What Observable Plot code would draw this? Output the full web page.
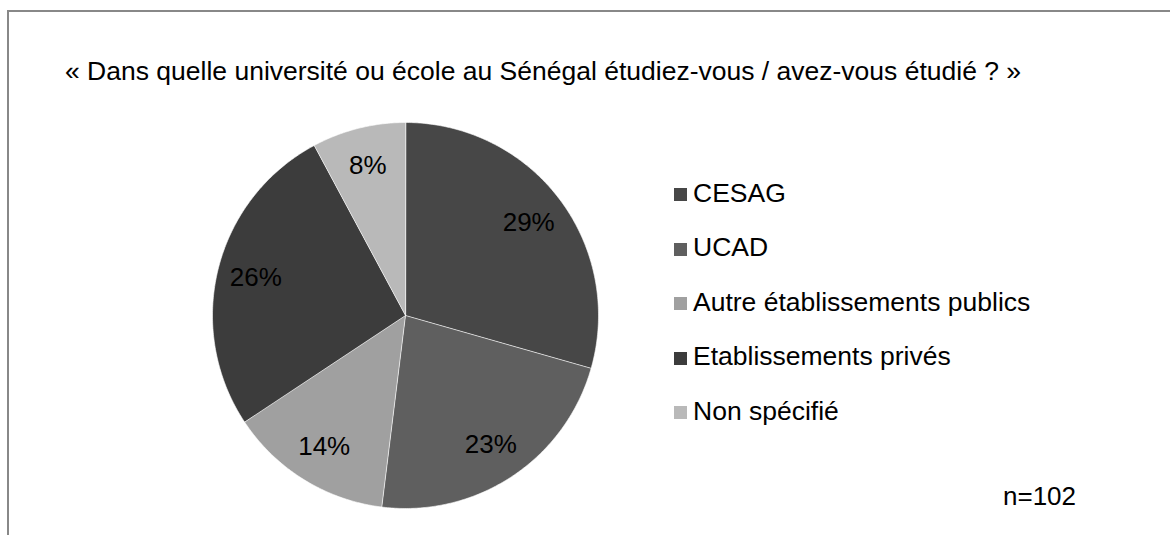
<!DOCTYPE html>
<html><head><meta charset="utf-8">
<script src="https://cdn.jsdelivr.net/npm/d3@7"></script>
<script src="https://cdn.jsdelivr.net/npm/@observablehq/plot@0.6"></script>
<style>
body{margin:0;background:#fff;font-family:"Liberation Sans",Arial,sans-serif;}
#wrap{position:relative;width:1170px;height:535px;overflow:hidden;}
#frame{position:absolute;left:7px;top:10px;width:1300px;height:700px;border:2px solid #888;box-sizing:border-box;}
#title{position:absolute;left:65px;top:57.5px;font-size:26.5px;line-height:26.5px;color:#000;white-space:nowrap;}
#chart{position:absolute;left:212px;top:122px;}
.txt{position:absolute;left:693px;font-size:26.5px;line-height:26.5px;white-space:nowrap;color:#000;}
.sw{position:absolute;left:674px;width:13px;height:13px;}
#n{position:absolute;left:1003px;font-size:26px;line-height:26px;white-space:nowrap;}
</style></head>
<body>
<div id="wrap">
  <div id="frame"></div>
  <div id="title">« Dans quelle université ou école au Sénégal étudiez-vous / avez-vous étudié ? »</div>
  <div id="chart"></div>
  <div id="legend"></div>
  <div id="n"></div>
</div>
<script>
const categories = ["CESAG", "UCAD", "Autre établissements publics", "Etablissements privés", "Non spécifié"];
const counts = [30, 23, 14, 27, 8];
const colors = ["#474747", "#5f5f5f", "#a0a0a0", "#3c3c3c", "#b9b9b9"];

const total = d3.sum(counts);
const rows = categories.map((c, i) => ({category: c, count: counts[i]}));
const arcs = d3.pie().sort(null).value(d => d.count)(rows);

const slices = arcs.map(a => {
  const ring = [[0, 0]];
  const steps = Math.max(2, Math.ceil((a.endAngle - a.startAngle) / 0.01));
  for (let k = 0; k <= steps; k++) {
    const t = a.startAngle + (a.endAngle - a.startAngle) * k / steps;
    ring.push([Math.sin(t), -Math.cos(t)]);
  }
  ring.push([0, 0]);
  return {type: "Feature", properties: {category: a.data.category}, geometry: {type: "Polygon", coordinates: [ring]}};
});

const labels = arcs.map(a => {
  const m = (a.startAngle + a.endAngle) / 2;
  return {x: 0.8 * Math.sin(m), y: -0.8 * Math.cos(m), label: Math.round(100 * a.data.count / total) + "%"};
});

const chart = Plot.plot({
  width: 386,
  height: 386,
  margin: 0,
  style: {background: "transparent", fontFamily: "'Liberation Sans', Arial, sans-serif", overflow: "visible"},
  projection: {type: "identity", domain: {type: "MultiPoint", coordinates: [[-1, -1], [1, 1]]}},
  color: {domain: categories, range: colors},
  marks: [
    Plot.geo(slices, {fill: d => d.properties.category, stroke: "white", strokeWidth: 0.6}),
    Plot.text(labels, {x: "x", y: "y", text: "label", fontSize: 26, fill: "black"})
  ]
});
document.getElementById("chart").appendChild(chart);

const legend = document.getElementById("legend");
categories.forEach((c, i) => {
  const baseline = 202 + i * 54.6;
  const sw = document.createElement("div");
  sw.className = "sw";
  sw.style.top = (baseline - 14) + "px";
  sw.style.background = colors[i];
  legend.appendChild(sw);
  const t = document.createElement("div");
  t.className = "txt";
  t.style.top = (baseline - 22.4) + "px";
  t.textContent = c;
  legend.appendChild(t);
});
const n = document.getElementById("n");
n.style.top = (505 - 22) + "px";
n.textContent = "n=" + total;
</script>
</body></html>
